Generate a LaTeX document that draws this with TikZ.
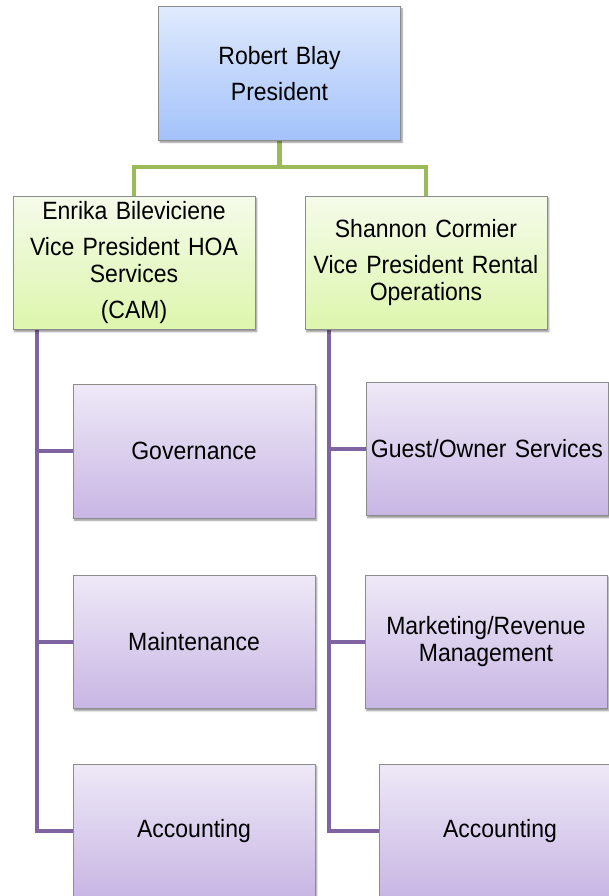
\documentclass[tikz,border=0pt]{standalone}
\usepackage{fontspec}
\setmainfont[FakeStretch=0.92,WordSpace=0.82]{Liberation Sans}
\usetikzlibrary{shadows.blur,backgrounds}

\definecolor{boxedge}{HTML}{8C8C8C}
\definecolor{blueTop}{HTML}{E0EAFD}
\definecolor{blueBot}{HTML}{A3C2FA}
\definecolor{greenTop}{HTML}{F5FBEA}
\definecolor{greenBot}{HTML}{DDF6AD}
\definecolor{purpTop}{HTML}{EEE9F7}
\definecolor{purpBot}{HTML}{C8B6E4}
\definecolor{greenLine}{HTML}{9BBB59}
\definecolor{purpLine}{HTML}{8064A2}

\tikzset{
  orgbox/.style={rectangle, anchor=north west, draw=boxedge, line width=0.9pt,
    minimum width=242pt, minimum height=133.5pt, inner sep=2pt, outer sep=0pt,
    align=center, text width=238pt,
    font=\fontsize{25}{27.5}\selectfont,
    blur shadow={shadow xshift=1.6pt, shadow yshift=-2.2pt, shadow blur steps=6,
      shadow blur radius=1.6pt, shadow opacity=45}},
  headbox/.style={orgbox, top color=blueTop, bottom color=blueBot},
  vpbox/.style={orgbox, top color=greenTop, bottom color=greenBot},
  unitbox/.style={orgbox, top color=purpTop, bottom color=purpBot},
  greenlink/.style={draw=greenLine, line width=4.2pt},
  purplink/.style={draw=purpLine, line width=4.2pt},
}

\begin{document}
\begin{tikzpicture}[x=1pt, y=-1pt]
  \useasboundingbox (0,0) rectangle (609,896);
  \clip (0,0) rectangle (609,896);

  % president
  \node[headbox] (pres) at (158.5,6.5) {Robert Blay\\[8.5pt]President};

  % vice presidents
  \node[vpbox] (vp1) at (13,196)
    {Enrika Bileviciene\\[8.5pt]Vice President HOA\\Services\\[8.5pt](CAM)};
  \node[vpbox] (vp2) at (305,196)
    {Shannon Cormier\\[8.5pt]Vice President Rental\\Operations};

  % HOA services units
  \node[unitbox] (gov)  at (73,384.5) {Governance};
  \node[unitbox] (mnt)  at (73,575)   {Maintenance};
  \node[unitbox] (acc1) at (73,764)   {Accounting};

  % rental operations units
  \node[unitbox] (gos)  at (366,382)  {Guest/Owner Services};
  \node[unitbox] (mkt)  at (365,575)  {Marketing/Revenue\\Management};
  \node[unitbox] (acc2) at (379,764)  {Accounting};

  % connectors behind the boxes
  \begin{scope}[on background layer]
    \coordinate (bus) at (0,167);
    \draw[greenlink] (pres.south) -- (pres.south |- bus) -| (vp1.north);
    \draw[greenlink] (pres.south |- bus) -| (vp2.north);

    \coordinate (sp1) at ([xshift=24pt]vp1.south west);
    \draw[purplink] (sp1) |- (acc1.west);
    \draw[purplink] (sp1 |- gov.west) -- (gov.west);
    \draw[purplink] (sp1 |- mnt.west) -- (mnt.west);

    \coordinate (sp2) at ([xshift=24pt]vp2.south west);
    \draw[purplink] (sp2) |- (acc2.west);
    \draw[purplink] (sp2 |- gos.west) -- (gos.west);
    \draw[purplink] (sp2 |- mkt.west) -- (mkt.west);
  \end{scope}
\end{tikzpicture}
\end{document}
